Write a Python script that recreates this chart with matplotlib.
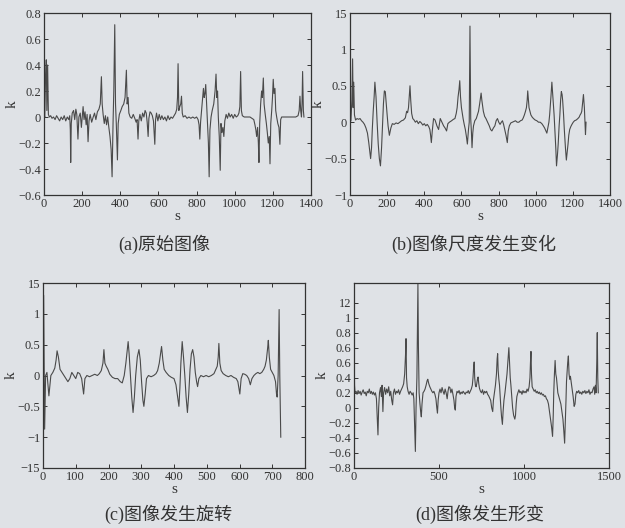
import matplotlib
matplotlib.use("Agg")
import matplotlib.pyplot as plt

# --- curvature samples (s, k) ---
a_pts = [
    (0, 0.02), (4, 0.0), (8, 0.3), (12, 0.44), (15, 0.05), (19, 0.4), (23, 0.02), (28, 0.0),
    (35, 0.01), (42, -0.01), (50, 0.0), (58, -0.02), (66, 0.01), (74, -0.01), (82, -0.03),
    (90, 0.0), (98, -0.02), (106, 0.01), (114, -0.03), (122, 0.0), (130, -0.02), (135, 0.01),
    (138, -0.1), (140, -0.35), (143, -0.05), (148, 0.03), (155, 0.05), (161, -0.02), (167, 0.06),
    (172, 0.02), (178, -0.17), (183, 0.0), (190, 0.03), (196, -0.08), (205, 0.08), (210, -0.02),
    (215, 0.04), (221, -0.06), (226, 0.02), (231, -0.19), (236, -0.03), (242, 0.02), (250, -0.04),
    (258, 0.0), (265, 0.03), (272, -0.02), (280, 0.04), (288, 0.06), (295, 0.1), (301, 0.31),
    (305, 0.1), (310, 0.02), (316, -0.05), (322, 0.01), (328, -0.06), (334, 0.0), (340, -0.08),
    (346, -0.15), (352, -0.25), (357, -0.46), (362, -0.05), (366, 0.2), (371, 0.71), (375, 0.1),
    (379, -0.05), (385, -0.33), (389, -0.05), (395, 0.02), (403, 0.05), (410, 0.08), (418, 0.1),
    (425, 0.15), (432, 0.36), (436, 0.1), (441, 0.15), (445, 0.03), (452, 0.0), (460, -0.01),
    (468, 0.02), (476, -0.01), (483, -0.04), (488, -0.02), (493, -0.17), (497, -0.03), (503, 0.02),
    (510, -0.03), (517, 0.03), (524, 0.0), (530, 0.05), (536, 0.03), (541, -0.04), (546, -0.15),
    (550, -0.01), (556, 0.04), (562, 0.03), (568, 0.01), (574, -0.03), (581, -0.21), (585, -0.02),
    (590, 0.03), (597, -0.03), (604, 0.02), (611, -0.02), (618, 0.01), (626, -0.02), (634, 0.0),
    (642, -0.03), (650, 0.01), (658, -0.02), (666, 0.0), (674, -0.01), (682, 0.01), (690, 0.03),
    (696, 0.06), (700, 0.15), (703, 0.41), (707, 0.05), (712, 0.08), (717, 0.1), (721, 0.16),
    (725, 0.03), (730, 0.0), (740, 0.01), (750, -0.01), (760, 0.0), (770, -0.01), (780, 0.0),
    (790, -0.01), (800, 0.0), (808, -0.02), (813, -0.06), (817, -0.17), (821, -0.04), (826, 0.05),
    (831, 0.15), (836, 0.22), (840, 0.15), (844, 0.18), (848, 0.25), (852, 0.12), (857, -0.05),
    (862, -0.2), (866, -0.46), (870, -0.1), (876, 0.0), (882, 0.05), (890, 0.1), (897, 0.2),
    (902, 0.33), (906, 0.15), (910, 0.2), (914, 0.0), (919, -0.15), (924, -0.41), (928, -0.05),
    (933, -0.12), (938, -0.08), (943, -0.15), (948, -0.03), (955, 0.02), (962, -0.01), (969, 0.03),
    (976, 0.0), (984, 0.02), (992, -0.01), (1000, 0.02), (1008, 0.0), (1016, 0.01), (1022, 0.03),
    (1027, 0.08), (1031, 0.35), (1035, 0.05), (1040, 0.01), (1050, 0.0), (1060, 0.0), (1070, 0.0),
    (1080, 0.0), (1090, -0.01), (1100, -0.02), (1106, -0.06), (1111, -0.1), (1115, -0.15),
    (1120, -0.08), (1124, -0.2), (1127, -0.35), (1131, -0.05), (1136, 0.1), (1141, 0.2),
    (1145, 0.15), (1150, 0.3), (1154, 0.1), (1160, 0.02), (1166, -0.05), (1171, -0.12),
    (1176, -0.2), (1181, -0.15), (1185, -0.36), (1189, -0.05), (1194, 0.05), (1198, 0.15),
    (1202, 0.29), (1206, 0.18), (1211, 0.22), (1215, 0.05), (1220, 0.0), (1226, -0.05),
    (1232, -0.08), (1237, -0.21), (1241, -0.02), (1246, 0.0), (1260, 0.0), (1275, 0.0),
    (1290, 0.0), (1305, 0.0), (1320, 0.0), (1332, 0.01), (1338, 0.05), (1342, 0.16), (1346, 0.05),
    (1350, 0.0), (1353, 0.1), (1356, 0.35), (1360, 0.05), (1363, 0.0),
]

b_pts = [
    (0, 0.0), (5, 0.02), (10, 0.3), (14, 0.87), (17, 0.2), (20, 0.55), (24, 0.1), (30, 0.03),
    (38, 0.05), (46, 0.04), (54, 0.05), (62, 0.02), (70, 0.0), (78, -0.03), (86, -0.08),
    (94, -0.15), (101, -0.28), (107, -0.42), (111, -0.5), (116, -0.35), (120, -0.1), (125, 0.15),
    (130, 0.35), (134, 0.55), (140, 0.35), (146, 0.0), (152, -0.3), (158, -0.5), (164, -0.6),
    (170, -0.35), (175, -0.05), (180, 0.25), (185, 0.43), (190, 0.42), (195, 0.25), (200, 0.1),
    (205, -0.05), (212, -0.18), (220, -0.08), (228, -0.02), (238, -0.03), (248, -0.01),
    (258, -0.02), (268, 0.0), (278, 0.02), (288, 0.03), (298, 0.06), (305, 0.15), (310, 0.13),
    (315, 0.2), (319, 0.35), (323, 0.5), (327, 0.3), (332, 0.12), (338, 0.05), (345, 0.03),
    (352, 0.0), (360, 0.02), (368, -0.02), (376, 0.01), (384, -0.01), (392, -0.04), (400, -0.02),
    (408, -0.05), (416, -0.03), (424, -0.06), (430, -0.1), (434, -0.18), (438, -0.28), (443, -0.12),
    (450, 0.05), (458, 0.03), (468, -0.05), (477, -0.1), (486, 0.05), (495, 0.0), (504, -0.05),
    (512, -0.08), (520, -0.12), (527, -0.02), (535, 0.0), (547, 0.02), (557, 0.04), (565, 0.05),
    (572, 0.12), (577, 0.2), (582, 0.35), (587, 0.45), (591, 0.57), (595, 0.35), (600, 0.2),
    (609, 0.05), (615, -0.03), (621, -0.1), (627, -0.2), (632, -0.3), (638, -0.1), (642, 0.0),
    (646, 1.32), (650, 0.05), (654, -0.15), (657, -0.35), (661, -0.15), (665, -0.05), (672, 0.02),
    (680, 0.05), (686, 0.1), (692, 0.15), (698, 0.25), (703, 0.35), (706, 0.4), (710, 0.3),
    (718, 0.15), (725, 0.08), (732, 0.05), (741, 0.0), (750, -0.05), (757, -0.1), (764, -0.12),
    (772, -0.08), (780, -0.05), (787, 0.02), (794, 0.05), (801, 0.0), (808, -0.03), (815, 0.0),
    (821, 0.02), (827, -0.03), (833, -0.1), (840, -0.18), (847, -0.28), (852, -0.12), (858, -0.05),
    (866, -0.01), (874, 0.0), (882, 0.01), (891, 0.02), (900, 0.0), (909, 0.0), (918, 0.02),
    (927, 0.03), (933, 0.06), (939, 0.1), (945, 0.15), (950, 0.2), (954, 0.3), (957, 0.43),
    (961, 0.3), (964, 0.2), (969, 0.15), (974, 0.1), (981, 0.07), (988, 0.05), (997, 0.03),
    (1006, 0.02), (1015, 0.0), (1024, 0.0), (1033, -0.02), (1041, -0.05), (1048, -0.08),
    (1055, -0.12), (1060, -0.15), (1065, -0.08), (1071, 0.0), (1075, 0.1), (1078, 0.2),
    (1082, 0.35), (1087, 0.55), (1091, 0.4), (1094, 0.3), (1099, 0.1), (1103, -0.1), (1108, -0.35),
    (1112, -0.6), (1117, -0.45), (1121, -0.3), (1126, -0.05), (1130, 0.1), (1134, 0.3),
    (1138, 0.42), (1142, 0.38), (1145, 0.3), (1150, 0.1), (1154, -0.1), (1160, -0.35), (1165, -0.52),
    (1170, -0.4), (1174, -0.3), (1178, -0.18), (1183, -0.1), (1189, -0.06), (1195, -0.03),
    (1202, 0.0), (1209, 0.02), (1218, 0.03), (1227, 0.05), (1234, 0.07), (1239, 0.1),
    (1244, 0.12), (1248, 0.15), (1252, 0.25), (1257, 0.38), (1262, 0.2), (1265, 0.0),
    (1268, -0.17), (1271, 0.0),
]

c_pts = [
    (0, 0.0), (2, 1.3), (4, -0.2), (5, -0.87), (8, 0.0), (12, 0.05), (18, -0.33), (24, 0.0),
    (30, 0.05), (36, 0.12), (40, 0.25), (43, 0.4), (47, 0.3), (52, 0.1), (58, 0.05), (64, 0.0),
    (70, -0.05), (76, -0.1), (82, -0.05), (88, 0.05), (94, 0.0), (100, -0.05), (106, 0.05),
    (112, 0.03), (118, -0.05), (124, -0.3), (128, -0.05), (134, 0.0), (142, -0.02), (150, 0.0),
    (158, 0.02), (166, 0.0), (172, 0.03), (178, 0.08), (183, 0.2), (186, 0.42), (189, 0.2),
    (193, 0.15), (198, 0.1), (204, 0.02), (212, -0.03), (220, -0.05), (228, -0.05), (236, -0.1),
    (242, -0.12), (248, 0.0), (253, 0.2), (257, 0.4), (260, 0.55), (263, 0.35), (267, 0.0),
    (271, -0.35), (275, -0.6), (279, -0.35), (283, 0.0), (288, 0.3), (293, 0.42), (297, 0.25),
    (301, -0.1), (305, -0.4), (308, -0.5), (312, -0.3), (316, -0.05), (322, 0.0), (330, -0.02),
    (338, 0.0), (345, 0.03), (350, 0.08), (355, 0.2), (359, 0.35), (362, 0.47), (366, 0.25),
    (370, 0.1), (376, 0.05), (384, 0.0), (392, -0.03), (400, -0.05), (406, -0.15), (411, -0.35),
    (415, -0.5), (418, -0.2), (421, 0.2), (425, 0.55), (429, 0.3), (433, 0.0), (437, -0.35),
    (441, -0.6), (445, -0.3), (449, 0.1), (453, 0.35), (457, 0.42), (461, 0.3), (465, 0.05),
    (469, -0.1), (472, -0.18), (476, -0.05), (482, 0.0), (490, -0.02), (498, 0.0), (506, -0.02),
    (514, 0.0), (522, 0.03), (528, 0.1), (532, 0.15), (535, 0.3), (537, 0.52), (540, 0.2),
    (544, 0.08), (550, 0.03), (558, 0.0), (566, -0.02), (574, 0.0), (582, -0.03), (590, -0.05),
    (595, -0.1), (598, -0.2), (601, -0.3), (605, -0.05), (610, 0.03), (616, 0.02), (622, 0.0),
    (628, -0.05), (633, -0.15), (638, -0.05), (644, 0.0), (650, 0.03), (656, 0.05), (662, 0.03),
    (668, 0.05), (674, 0.1), (678, 0.15), (682, 0.25), (686, 0.45), (688, 0.57), (691, 0.3),
    (695, 0.1), (700, 0.05), (705, 0.0), (710, -0.1), (713, -0.3), (715, -0.35), (718, 0.0),
    (721, 1.07), (723, 0.0), (726, -1.0),
]

# panel (d) values are given in the printed axis scale (baseline sits on the "0.2" tick)
d_pts = [
    (0, 0.94), (3, 0.3), (6, 0.2), (12, 0.22), (18, 0.18), (24, 0.23), (30, 0.19), (36, 0.22),
    (42, 0.17), (48, 0.21), (54, 0.24), (60, 0.19), (66, 0.21), (72, 0.16), (78, 0.22), (84, 0.2),
    (90, 0.25), (96, 0.19), (102, 0.22), (108, 0.18), (114, 0.21), (120, 0.17), (126, 0.2),
    (132, 0.12), (138, -0.2), (141, -0.36), (145, 0.0), (150, 0.2), (156, 0.27), (161, 0.15),
    (165, 0.3), (170, -0.05), (174, 0.2), (180, 0.27), (186, 0.18), (192, 0.25), (198, 0.2),
    (204, 0.28), (210, 0.16), (216, 0.22), (222, 0.1), (227, 0.04), (232, 0.2), (238, 0.25),
    (244, 0.18), (250, 0.22), (256, 0.2), (262, 0.24), (268, 0.18), (274, 0.22), (280, 0.25),
    (286, 0.28), (292, 0.32), (298, 0.45), (303, 0.7), (306, 0.92), (309, 0.4), (313, 0.28),
    (318, 0.22), (324, 0.18), (330, 0.22), (336, 0.2), (342, 0.17), (348, 0.2), (352, 0.12),
    (356, -0.2), (361, -0.58), (365, 0.0), (370, 0.4), (374, 1.2), (376, 1.65), (379, 0.8),
    (383, 0.2), (388, 0.05), (392, -0.05), (396, -0.12), (400, 0.05), (406, 0.2), (412, 0.22),
    (418, 0.25), (424, 0.3), (430, 0.36), (434, 0.38), (440, 0.32), (446, 0.28), (452, 0.25),
    (458, 0.22), (464, 0.2), (470, 0.22), (476, 0.18), (482, 0.12), (487, 0.0), (491, -0.07),
    (495, 0.1), (500, 0.2), (506, 0.25), (512, 0.2), (518, 0.27), (524, 0.22), (530, 0.18),
    (536, 0.25), (542, 0.2), (548, 0.12), (553, 0.22), (558, 0.28), (564, 0.27), (570, 0.2),
    (576, 0.25), (582, 0.18), (588, 0.1), (592, 0.0), (596, -0.03), (600, 0.15), (606, 0.22),
    (612, 0.2), (618, 0.23), (624, 0.18), (630, 0.21), (636, 0.19), (642, 0.22), (648, 0.2),
    (654, 0.18), (660, 0.21), (666, 0.2), (672, 0.23), (678, 0.19), (684, 0.22), (690, 0.25),
    (696, 0.3), (700, 0.4), (704, 0.55), (707, 0.61), (710, 0.4), (714, 0.3), (718, 0.28),
    (722, 0.32), (726, 0.38), (730, 0.41), (734, 0.32), (738, 0.26), (744, 0.22), (750, 0.2),
    (756, 0.24), (762, 0.18), (768, 0.22), (774, 0.2), (780, 0.22), (786, 0.18), (792, 0.16),
    (798, 0.13), (804, 0.1), (810, 0.0), (816, -0.05), (820, 0.1), (826, 0.2), (832, 0.3),
    (838, 0.45), (842, 0.65), (845, 0.72), (848, 0.5), (852, 0.38), (856, 0.3), (860, 0.15),
    (864, 0.0), (868, -0.12), (873, -0.22), (877, -0.05), (882, 0.1), (888, 0.2), (894, 0.32),
    (900, 0.45), (906, 0.65), (911, 0.8), (915, 0.6), (919, 0.4), (923, 0.3), (928, 0.15),
    (933, 0.0), (939, -0.1), (946, -0.15), (950, -0.1), (954, 0.05), (958, 0.15), (964, 0.2),
    (970, 0.24), (976, 0.2), (982, 0.22), (988, 0.18), (994, 0.23), (1000, 0.2), (1006, 0.22),
    (1012, 0.2), (1018, 0.25), (1024, 0.22), (1030, 0.28), (1035, 0.4), (1038, 0.6), (1041, 0.75),
    (1044, 0.45), (1048, 0.28), (1054, 0.25), (1060, 0.22), (1066, 0.24), (1072, 0.2),
    (1078, 0.22), (1084, 0.19), (1090, 0.21), (1096, 0.18), (1102, 0.2), (1108, 0.17),
    (1114, 0.18), (1120, 0.15), (1126, 0.16), (1132, 0.12), (1138, 0.1), (1144, 0.05),
    (1150, -0.05), (1156, -0.15), (1162, -0.25), (1168, -0.38), (1172, -0.1), (1175, 0.2),
    (1179, 0.45), (1183, 0.63), (1187, 0.45), (1191, 0.4), (1195, 0.3), (1199, 0.2), (1205, 0.15),
    (1211, 0.1), (1217, 0.05), (1223, -0.05), (1229, -0.15), (1234, -0.3), (1239, -0.47),
    (1243, -0.2), (1247, 0.1), (1250, 0.35), (1253, 0.45), (1257, 0.6), (1261, 0.69), (1265, 0.45),
    (1269, 0.38), (1273, 0.42), (1277, 0.35), (1283, 0.25), (1289, 0.15), (1295, 0.02),
    (1300, 0.05), (1305, 0.18), (1310, 0.22), (1316, 0.2), (1322, 0.23), (1328, 0.19), (1334, 0.21),
    (1340, 0.18), (1346, 0.22), (1352, 0.2), (1358, 0.23), (1364, 0.19), (1370, 0.22), (1376, 0.2),
    (1382, 0.24), (1388, 0.18), (1394, 0.21), (1400, 0.2), (1406, 0.25), (1412, 0.28),
    (1416, 0.18), (1420, 0.3), (1424, 0.2), (1428, 0.6), (1431, 1.0), (1434, 0.4), (1437, 0.2),
]

captions = ["(a)原始图像", "(b)图像尺度发生变化", "(c)图像发生旋转", "(d)图像发生形变"]

a_xticks = [0, 200, 400, 600, 800, 1000, 1200, 1400]
a_yticks = [-0.6, -0.4, -0.2, 0, 0.2, 0.4, 0.6, 0.8]
a_ylabels = ["−0.6", "−0.4", "−0.2", "0", "0.2", "0.4", "0.6", "0.8"]

b_xticks = [0, 200, 400, 600, 800, 1000, 1200, 1400]
b_yticks = [-1, -0.5, 0, 0.5, 1, 1.5]
b_ylabels = ["−1", "−0.5", "0", "0.5", "1", "15"]

c_xticks = [0, 100, 200, 300, 400, 500, 600, 700, 800]
c_yticks = [-1.5, -1, -0.5, 0, 0.5, 1, 1.5]
c_ylabels = ["−15", "−1", "−0.5", "0", "0.5", "1", "15"]

d_xticks = [0, 500, 1000, 1500]
d_yticks = [-0.8, -0.6, -0.4, -0.2, 0, 0.2, 0.4, 0.6, 0.8, 1.0, 1.2, 1.4]
d_ylabels = ["−0.8", "−0.6", "−0.4", "−0.2", "0", "0.2", "0.4", "0.6", "0.6", "0.8", "1", "12"]

bg = "#dfe2e6"
ink = "#333333"
plt.rcParams["font.family"] = ["Liberation Serif", "Noto Sans CJK SC"]

fig = plt.figure(figsize=(6.25, 5.28), dpi=100, facecolor=bg)

panels = [
    (a_pts, [44, 13, 311, 195], (0, 1400), (-0.6, 0.8), a_xticks, a_yticks, a_ylabels),
    (b_pts, [350, 13, 610, 195], (0, 1400), (-1, 1.5), b_xticks, b_yticks, b_ylabels),
    (c_pts, [43, 283, 305, 468], (0, 800), (-1.5, 1.5), c_xticks, c_yticks, c_ylabels),
    (d_pts, [354, 283, 609, 468], (0, 1500), (-0.8, 1.66), d_xticks, d_yticks, d_ylabels),
]

W, H = 625, 528
for pts, (x0, y0, x1, y1), xl, yl, xt, yt, ylab in panels:
    ax = fig.add_axes([x0 / W, 1 - y1 / H, (x1 - x0) / W, (y1 - y0) / H])
    ax.set_facecolor(bg)
    s, k = zip(*pts)
    ax.plot(s, k, color="#4a4a4a", lw=0.8)
    ax.set_xlim(*xl)
    ax.set_ylim(*yl)
    ax.set_xticks(xt)
    ax.set_xticklabels([str(v) for v in xt])
    ax.set_yticks(yt)
    ax.set_yticklabels(ylab)
    ax.tick_params(direction="in", top=True, right=True, length=3, width=0.7,
                   labelsize=9, colors=ink, pad=2)
    for sp in ax.spines.values():
        sp.set_color(ink)
        sp.set_linewidth(0.9)
    ax.set_xlabel("s", fontsize=11, color=ink, labelpad=0)
    ax.set_ylabel("k", fontsize=11, color=ink, labelpad=0)

cap_pos = [(164, 244), (474, 244), (168, 514), (480, 514)]
for txt, (cx, cy) in zip(captions, cap_pos):
    fig.text(cx / W, 1 - cy / H, txt, ha="center", va="center", fontsize=13, color=ink)

fig.savefig("out.png", dpi=100, facecolor=bg)
